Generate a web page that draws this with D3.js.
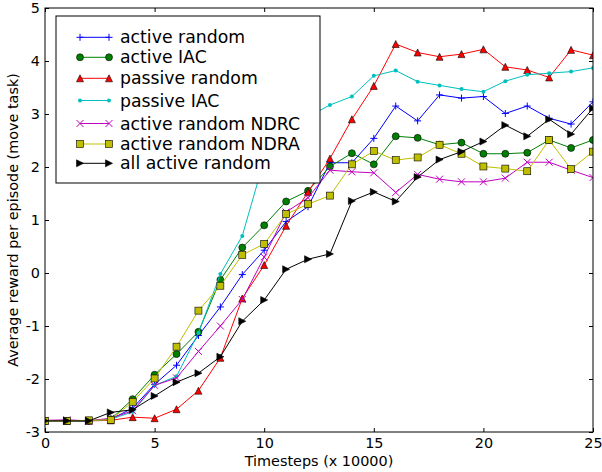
<!DOCTYPE html>
<html>
<head>
<meta charset="UTF-8">
<title>Average reward per episode</title>
<script src="https://cdn.jsdelivr.net/npm/d3@7"></script>
<style>
  body { margin: 0; background: #fff; }
  text { font-family: "DejaVu Sans", sans-serif; }
</style>
</head>
<body>
<svg id="vis" width="602" height="472"></svg>
<script>
// x values (timesteps x 10000)
const timesteps = [0, 1, 2, 3, 4, 5, 6, 7, 8, 9, 10, 11, 12, 13, 14, 15, 16, 17, 18, 19, 20, 21, 22, 23, 24, 25];

// series values
const activeRandom = [-2.79, -2.79, -2.79, -2.76, -2.55, -2.10, -1.74, -1.18, -0.64, -0.03, 0.43, 0.97, 1.25, 2.08, 2.08, 2.54, 3.15, 2.87, 3.36, 3.30, 3.33, 3.01, 3.15, 2.92, 2.81, 3.23];
const activeIAC = [-2.79, -2.79, -2.79, -2.76, -2.38, -1.92, -1.53, -1.11, -0.13, 0.48, 0.90, 1.35, 1.55, 2.01, 2.26, 2.05, 2.58, 2.55, 2.42, 2.46, 2.25, 2.25, 2.27, 2.51, 2.36, 2.51];
const passiveRandom = [-2.79, -2.79, -2.79, -2.78, -2.72, -2.74, -2.57, -2.22, -1.60, -0.48, 0.15, 0.89, 1.53, 2.16, 2.90, 3.53, 4.32, 4.16, 4.08, 4.13, 4.22, 3.89, 3.83, 3.69, 4.21, 4.11];
const passiveIAC = [-2.79, -2.79, -2.79, -2.76, -2.62, -2.12, -1.95, -1.13, -0.02, 0.70, 2.14, 2.60, 2.95, 3.17, 3.33, 3.72, 3.82, 3.61, 3.54, 3.47, 3.42, 3.62, 3.74, 3.77, 3.80, 3.87];
const activeRandomNDRC = [-2.78, -2.77, -2.79, -2.74, -2.60, -2.12, -1.98, -1.48, -1.00, -0.50, 0.30, 1.15, 1.42, 1.94, 1.91, 1.89, 1.52, 1.86, 1.77, 1.72, 1.72, 1.79, 2.09, 2.09, 1.94, 1.80];
const activeRandomNDRA = [-2.79, -2.79, -2.78, -2.77, -2.43, -1.99, -1.39, -0.71, -0.24, 0.34, 0.55, 1.11, 1.30, 1.46, 2.05, 2.30, 2.13, 2.18, 2.42, 2.25, 2.01, 1.97, 1.92, 2.51, 1.96, 2.29];
const allActiveRandom = [-2.79, -2.79, -2.79, -2.63, -2.58, -2.32, -2.06, -1.89, -1.58, -0.91, -0.51, 0.07, 0.26, 0.36, 1.36, 1.53, 1.35, 1.81, 2.14, 2.29, 2.48, 2.79, 2.58, 2.90, 2.62, 3.11];

const seriesNames = ["active random", "active IAC", "passive random", "passive IAC", "active random NDRC", "active random NDRA", "all active random"];
const seriesValues = [activeRandom, activeIAC, passiveRandom, passiveIAC, activeRandomNDRC, activeRandomNDRA, allActiveRandom];
const seriesColors = ["#0000ff", "#008000", "#ff0000", "#00bfbf", "#bf00bf", "#bfbf00", "#000000"];
const seriesMarkers = ["+", "o", "^", ".", "x", "s", ">"];

const xTicks = [0, 5, 10, 15, 20, 25];
const yTicks = [-3, -2, -1, 0, 1, 2, 3, 4, 5];

// plot box in pixels
const pLeft = 45, pRight = 593, pTop = 8, pBottom = 432;
const ms = 7; // marker size
// legend row centres (matplotlib spaces them a bit unevenly)
const legRows = [37.3, 57.3, 78.3, 100.5, 123.5, 144, 163.3];

const svg = d3.select("#vis");

const x = d3.scaleLinear().domain([0, 25]).range([pLeft, pRight]);
const y = d3.scaleLinear().domain([-3, 5]).range([pBottom, pTop]);

svg.append("defs").append("clipPath").attr("id", "plot")
  .append("rect")
  .attr("x", pLeft).attr("y", pTop)
  .attr("width", pRight - pLeft).attr("height", pBottom - pTop);

// draws one marker of kind k centred at 0,0 inside g
function marker(g, k, color) {
  const h = ms / 2;
  if (k == "+") {
    g.append("path").attr("d", `M${-h},0H${h}M0,${-h}V${h}`)
      .attr("stroke", color).attr("stroke-width", 1).attr("fill", "none");
  } else if (k == "x") {
    g.append("path").attr("d", `M${-h},${-h}L${h},${h}M${-h},${h}L${h},${-h}`)
      .attr("stroke", color).attr("stroke-width", 1).attr("fill", "none");
  } else if (k == "o") {
    g.append("circle").attr("r", h).attr("fill", color)
      .attr("stroke", "#000").attr("stroke-width", 0.6);
  } else if (k == ".") {
    g.append("circle").attr("r", 2).attr("fill", color);
  } else if (k == "^") {
    g.append("path").attr("d", `M0,${-h}L${h},${h}L${-h},${h}Z`).attr("fill", color)
      .attr("stroke", "#000").attr("stroke-width", 0.6);
  } else if (k == ">") {
    g.append("path").attr("d", `M${h},0L${-h},${-h}L${-h},${h}Z`).attr("fill", color)
      .attr("stroke", "#000").attr("stroke-width", 0.6);
  } else if (k == "s") {
    g.append("rect").attr("x", -h).attr("y", -h).attr("width", ms).attr("height", ms)
      .attr("fill", color).attr("stroke", "#000").attr("stroke-width", 0.6);
  }
}

// plot area
const gPlot = svg.append("g").attr("clip-path", "url(#plot)");
const line = d3.line().x(d => x(d[0])).y(d => y(d[1]));

for (let i = 0; i < seriesValues.length; i++) {
  const pts = timesteps.map((t, j) => [t, seriesValues[i][j]]);
  gPlot.append("path")
    .attr("d", line(pts))
    .attr("fill", "none")
    .attr("stroke", seriesColors[i])
    .attr("stroke-width", 1);
  for (let p of pts) {
    const g = gPlot.append("g").attr("transform", `translate(${x(p[0])},${y(p[1])})`);
    marker(g, seriesMarkers[i], seriesColors[i]);
  }
}

// axes (ticks inside, on all four sides)
const fs = 14.4;
const gx = svg.append("g").attr("transform", `translate(0,${pBottom})`)
  .call(d3.axisBottom(x).tickValues(xTicks).tickSize(-4).tickPadding(6).tickFormat(d3.format("d")));
const gy = svg.append("g").attr("transform", `translate(${pLeft},0)`)
  .call(d3.axisLeft(y).tickValues(yTicks).tickSize(-4).tickPadding(5).tickFormat(d3.format("d")));
const gt = svg.append("g").attr("transform", `translate(0,${pTop})`)
  .call(d3.axisTop(x).tickValues(xTicks).tickSize(-4).tickFormat(""));
const gr = svg.append("g").attr("transform", `translate(${pRight},0)`)
  .call(d3.axisRight(y).tickValues(yTicks).tickSize(-4).tickFormat(""));

for (let g of [gx, gy, gt, gr]) {
  g.select(".domain").remove();
  g.selectAll(".tick line").attr("stroke", "#000");
  g.selectAll("text").attr("font-size", fs).attr("fill", "#000")
    .attr("font-family", "DejaVu Sans, sans-serif");
}
gy.selectAll("text").text(d => d < 0 ? "-" + Math.abs(d) : d);

svg.append("rect")
  .attr("x", pLeft).attr("y", pTop)
  .attr("width", pRight - pLeft).attr("height", pBottom - pTop)
  .attr("fill", "none").attr("stroke", "#000").attr("stroke-width", 1);

// axis titles
svg.append("text")
  .attr("x", (pLeft + pRight) / 2).attr("y", 466)
  .attr("text-anchor", "middle").attr("font-size", fs)
  .text("Timesteps (x 10000)");
svg.append("text")
  .attr("transform", `translate(18,${(pTop + pBottom) / 2}) rotate(-90)`)
  .attr("text-anchor", "middle").attr("font-size", fs)
  .text("Average reward per episode (move task)");

// legend
const gLeg = svg.append("g");
gLeg.append("rect")
  .attr("x", 56).attr("y", 16).attr("width", 264).attr("height", 167)
  .attr("fill", "#fff").attr("stroke", "#000").attr("stroke-width", 1);

for (let i = 0; i < seriesNames.length; i++) {
  const cy = legRows[i];
  gLeg.append("line")
    .attr("x1", 80).attr("x2", 109).attr("y1", cy).attr("y2", cy)
    .attr("stroke", seriesColors[i]).attr("stroke-width", 1);
  for (let mx of [80, 109]) {
    marker(gLeg.append("g").attr("transform", `translate(${mx},${cy})`), seriesMarkers[i], seriesColors[i]);
  }
  gLeg.append("text")
    .attr("x", 120).attr("y", cy + 6)
    .attr("font-size", 17.3)
    .text(seriesNames[i]);
}
</script>
</body>
</html>
